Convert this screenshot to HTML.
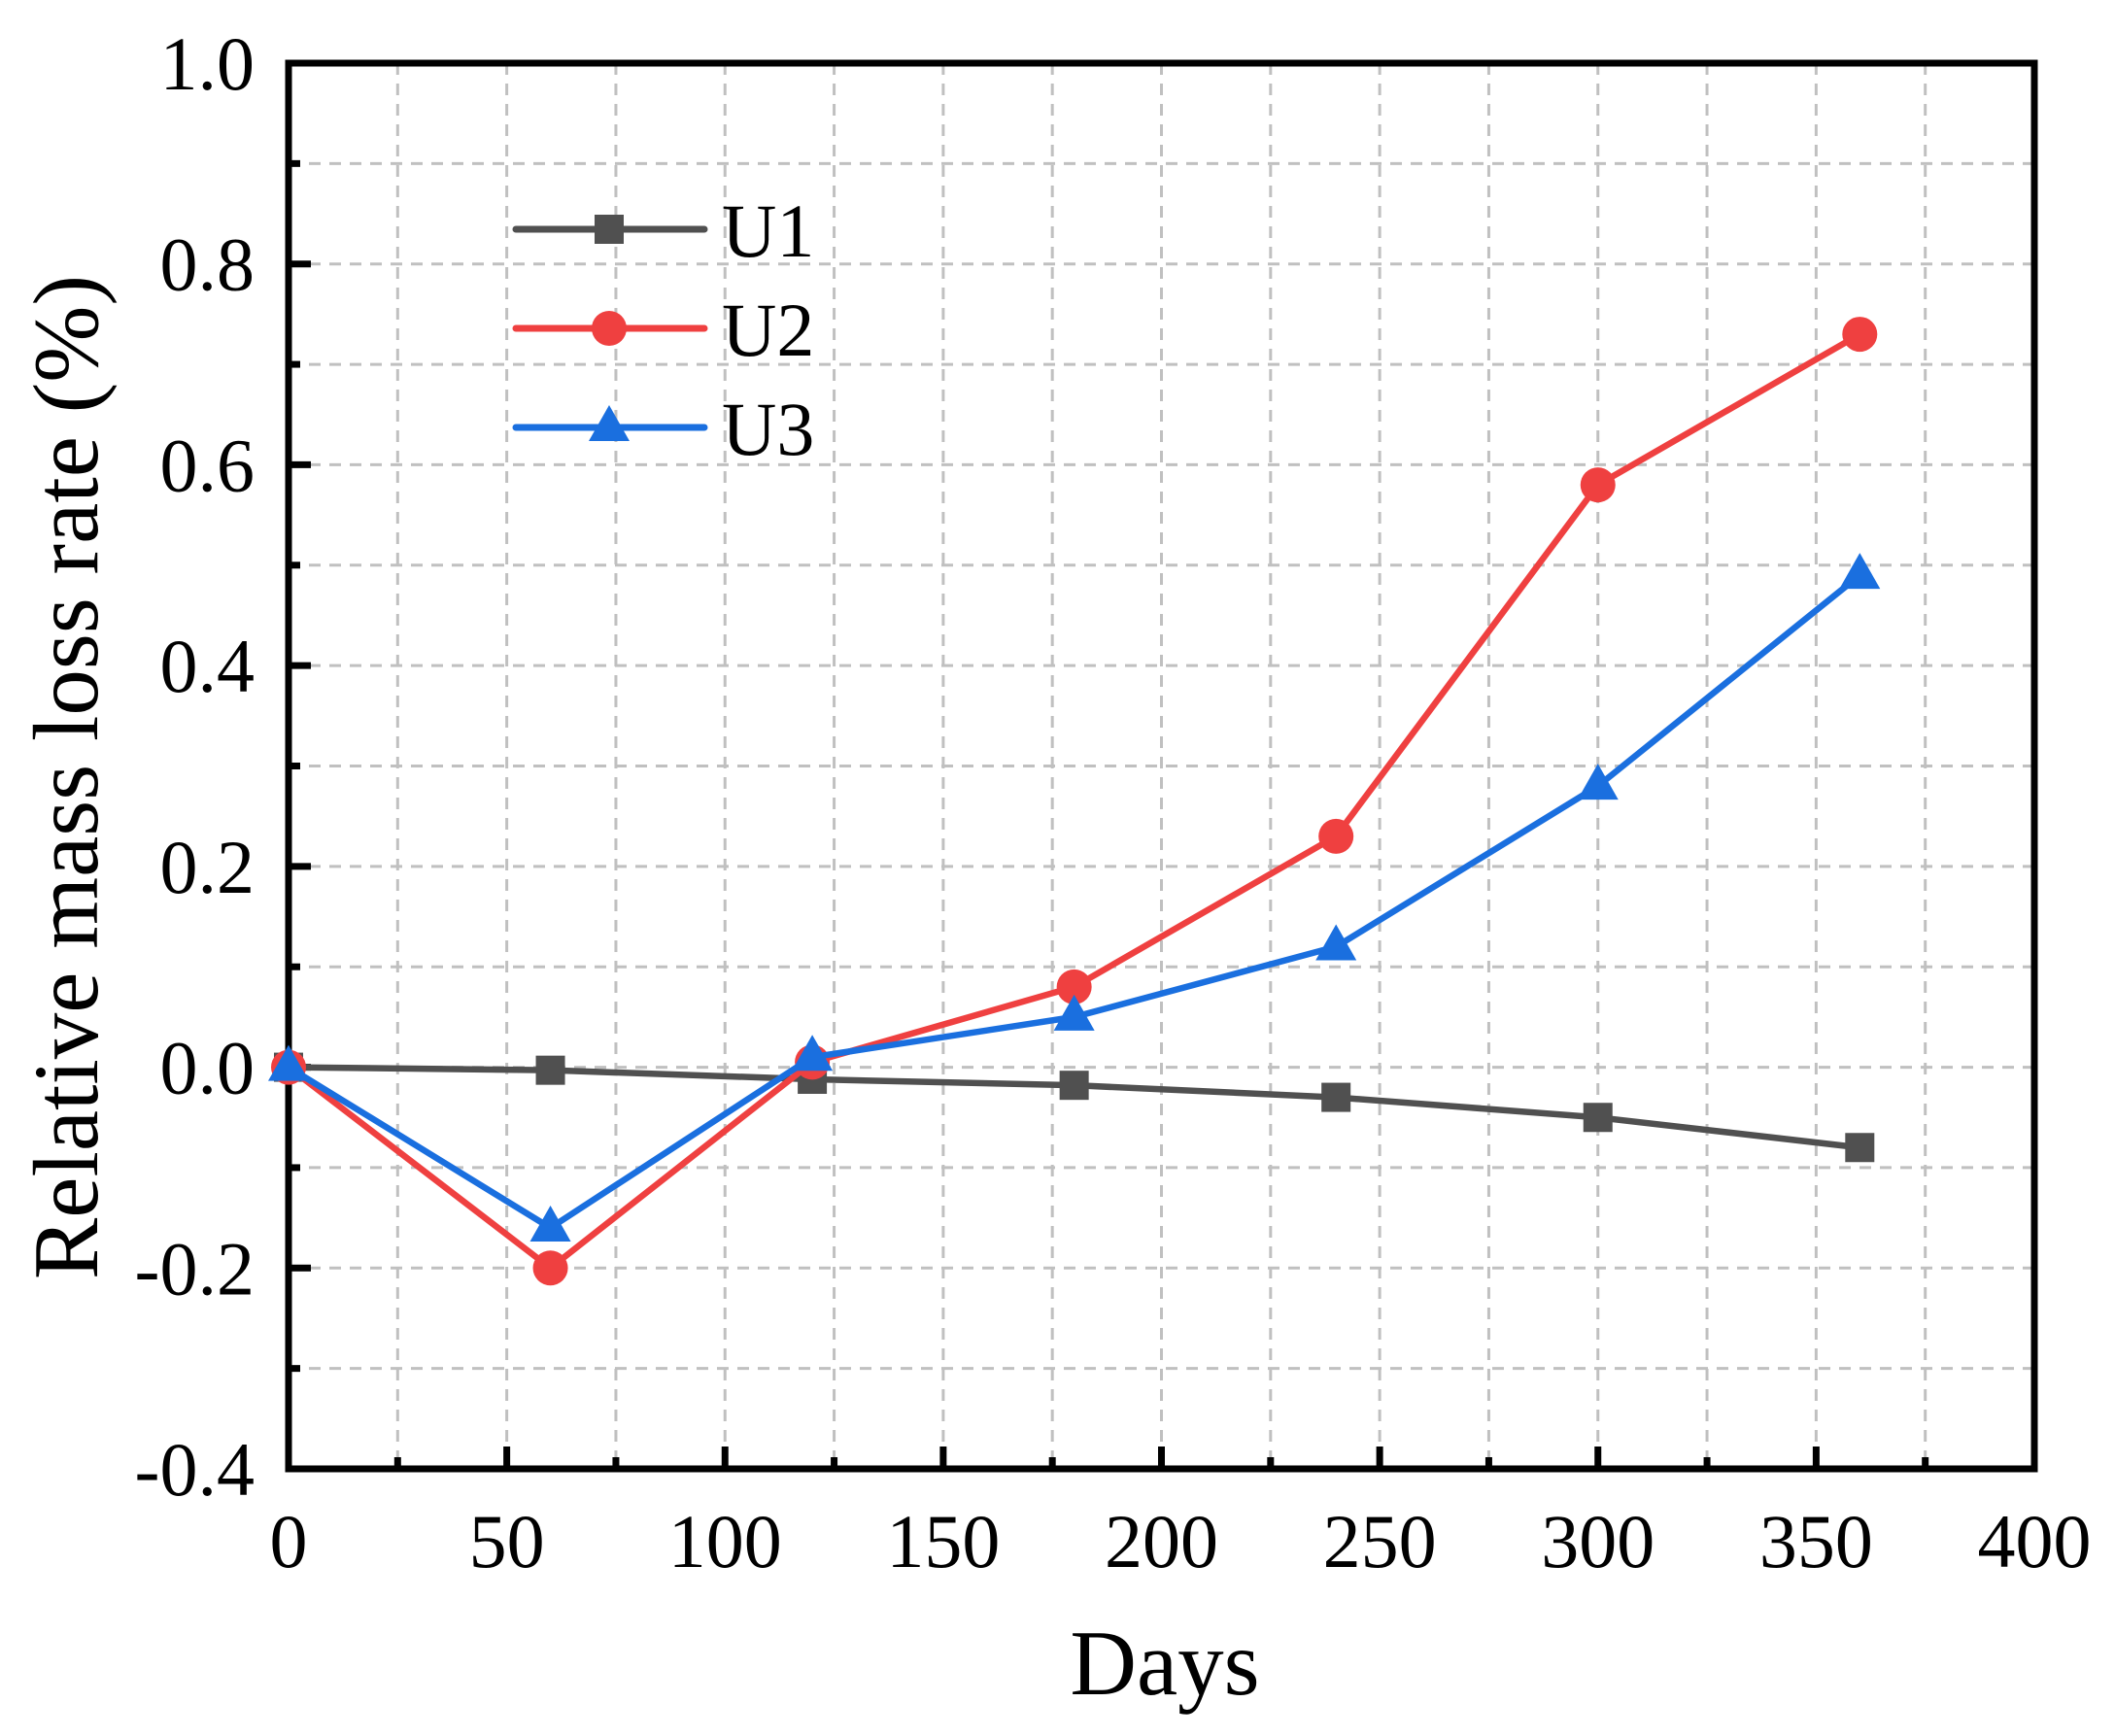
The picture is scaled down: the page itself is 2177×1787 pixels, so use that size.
<!DOCTYPE html>
<html><head><meta charset="utf-8"><style>
html,body{margin:0;padding:0;background:#fff;}
svg{display:block;font-family:"Liberation Serif",serif;}
</style></head><body>
<svg id="c" width="2177" height="1787" xmlns="http://www.w3.org/2000/svg"></svg>
<script>
const L=297,R=2094,T=65,B=1512;
const X=d=>L+(d/400)*(R-L);
const Y=v=>T+(1.0-v)/1.4*(B-T);
let s='';
for(let d=25;d<400;d+=25){s+=`<line x1="${X(d)}" y1="${T}" x2="${X(d)}" y2="${B}" stroke="#c0c0c0" stroke-width="3" stroke-dasharray="12,9"/>`;}
for(let i=1;i<14;i++){const v=1.0-i*0.1;s+=`<line x1="${L}" y1="${Y(v)}" x2="${R}" y2="${Y(v)}" stroke="#c0c0c0" stroke-width="3" stroke-dasharray="12,9"/>`;}
for(let d=25;d<400;d+=25){const maj=d%50==0;s+=`<line x1="${X(d)}" y1="${B}" x2="${X(d)}" y2="${B-(maj?23:12)}" stroke="#000" stroke-width="7"/>`;}
for(let i=1;i<14;i++){const v=1.0-i*0.1;const maj=i%2==0;s+=`<line x1="${L}" y1="${Y(v)}" x2="${L+(maj?23:12)}" y2="${Y(v)}" stroke="#000" stroke-width="7"/>`;}
for(let d=0;d<=400;d+=50){s+=`<text x="${X(d)}" y="1613" font-size="78" text-anchor="middle">${d}</text>`;}
for(let i=0;i<=7;i++){const v=1.0-i*0.2;s+=`<text x="262" y="${Y(v)+27}" font-size="78" text-anchor="end">${v.toFixed(1).replace('-0.0','0.0')}</text>`;}
s+=`<rect x="${L}" y="${T}" width="${R-L}" height="${B-T}" fill="none" stroke="#000" stroke-width="7"/>`;
const days=[0,60,120,180,240,300,360];
const ser=[
 {c:'#505050',m:'s',v:[0,-0.003,-0.012,-0.018,-0.03,-0.05,-0.08]},
 {c:'#ef4040',m:'o',v:[0,-0.2,0.005,0.08,0.23,0.58,0.73]},
 {c:'#1a6fdf',m:'t',v:[0,-0.16,0.01,0.05,0.12,0.28,0.49]}];
function mk(m,x,y,c){
 if(m=='s')return `<rect x="${x-15}" y="${y-15}" width="30" height="30" fill="${c}"/>`;
 if(m=='o')return `<circle cx="${x}" cy="${y}" r="18" fill="${c}"/>`;
 return `<polygon points="${x},${y-23} ${x-21},${y+14} ${x+21},${y+14}" fill="${c}"/>`;
}
ser.forEach(o=>{
 s+=`<polyline fill="none" stroke="${o.c}" stroke-width="6.5" stroke-linejoin="round" points="${days.map((d,i)=>X(d)+','+Y(o.v[i])).join(' ')}"/>`;
 days.forEach((d,i)=>s+=mk(o.m,X(d),Y(o.v[i]),o.c));
});
const names=['U1','U2','U3'],ly=[236,338,440];
ser.forEach((o,i)=>{
 s+=`<line x1="531" y1="${ly[i]}" x2="725" y2="${ly[i]}" stroke="${o.c}" stroke-width="7" stroke-linecap="round"/>`;
 s+=mk(o.m,627,ly[i],o.c);
 s+=`<text x="743" y="${ly[i]+28}" font-size="78">${names[i]}</text>`;
});
s+=`<text x="1199" y="1744" font-size="95" text-anchor="middle">Days</text>`;
s+=`<text transform="translate(100,800) rotate(-90)" font-size="95" text-anchor="middle">Relative mass loss rate (%)</text>`;
document.getElementById('c').innerHTML=s;
</script>
</body></html>
